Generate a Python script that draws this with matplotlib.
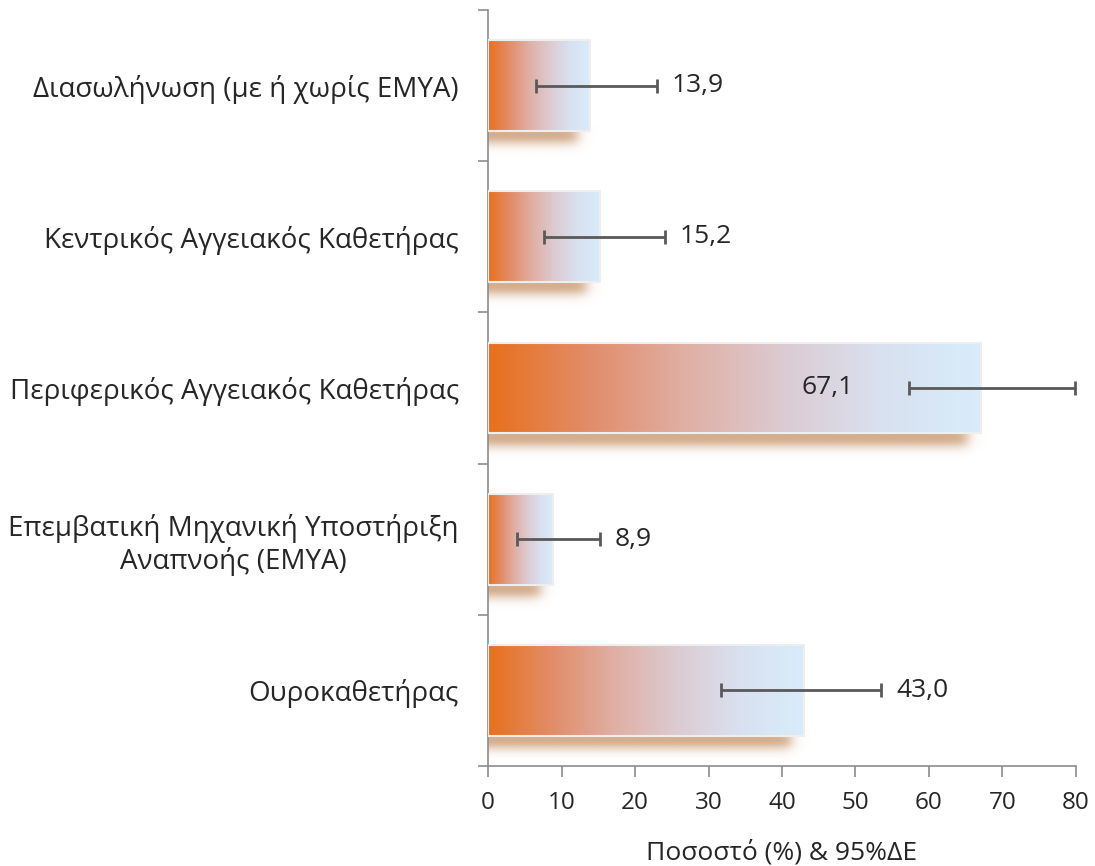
import numpy as np
import matplotlib.pyplot as plt
from matplotlib.colors import LinearSegmentedColormap

# δεδομένα
categories = ['Διασωλήνωση (με ή χωρίς ΕΜΥΑ)',
              'Κεντρικός Αγγειακός Καθετήρας',
              'Περιφερικός Αγγειακός Καθετήρας',
              'Επεμβατική Μηχανική Υποστήριξη\nΑναπνοής (ΕΜΥΑ)',
              'Ουροκαθετήρας']
values = [13.9, 15.2, 67.1, 8.9, 43.0]
ci_low = [6.5, 7.6, 57.3, 3.9, 31.7]
ci_high = [23.0, 24.1, 79.9, 15.2, 53.5]
value_labels = ['13,9', '15,2', '67,1', '8,9', '43,0']
xticks = [0, 10, 20, 30, 40, 50, 60, 70, 80]

plt.rcParams['font.family'] = ['Open Sans', 'DejaVu Sans']

grad = LinearSegmentedColormap.from_list('g', ['#E8701C', '#E28C68', '#E0AFA4',
                                               '#DCCBD2', '#D9E1F0', '#D8ECFB'])

fig = plt.figure(figsize=(10.95, 8.66), dpi=100)
ax = fig.add_axes([0.4457, 0.1155, 0.5369, 0.873])

h = 0.6
for i, v in enumerate(values):
    # σκιά
    nx, ny = 200, 40
    xs = np.linspace(0, v + 1.5, nx)
    ys = np.linspace(i + 0.26, i + 0.48, ny)
    ax_ = 1 / (1 + np.exp((xs - (v - 1.8)) / 0.5))
    ay_ = np.exp(-((ys - (i + 0.33)) / 0.065) ** 2)
    ay_[ys < i + 0.33] = 1
    alpha = np.outer(ay_, ax_) * 0.85
    img = np.zeros((ny, nx, 4))
    img[..., 0] = 205 / 255
    img[..., 1] = 160 / 255
    img[..., 2] = 122 / 255
    img[..., 3] = alpha
    ax.imshow(img, extent=(0, v + 1.5, i + 0.48, i + 0.26), aspect='auto',
              interpolation='bilinear', zorder=1)
    # μπάρα με διαβάθμιση
    g = np.linspace(0, 1, 256).reshape(1, -1)
    ax.imshow(g, cmap=grad, extent=(0, v, i + h / 2, i - h / 2), aspect='auto',
              interpolation='bilinear', zorder=2)
    ax.add_patch(plt.Rectangle((0, i - h / 2), v, h, fill=False,
                               edgecolor='#EEEEEE', lw=1.5, zorder=3))

err = [np.array(values) - np.array(ci_low), np.array(ci_high) - np.array(values)]
ax.errorbar(values, range(len(values)), xerr=err, fmt='none', ecolor='#595959',
            elinewidth=2, capsize=5, capthick=2, zorder=4)

for i, v in enumerate(values):
    if ci_high[i] > 75:
        ax.text(ci_low[i] - 7.6, i, value_labels[i], ha='right', va='center',
                fontsize=19, color='#262626', zorder=5)
    else:
        ax.text(ci_high[i] + 2, i, value_labels[i], ha='left', va='center',
                fontsize=19, color='#262626', zorder=5)

ax.set_xlim(0, 80)
ax.set_ylim(len(values) - 0.5, -0.5)
ax.set_xticks(xticks)
ax.set_xticklabels([str(t) for t in xticks], fontsize=17.5, color='#262626')
ax.set_yticks(np.arange(-0.5, len(values), 1.0))
ax.set_yticklabels([])
ax.set_yticks(range(len(values)), minor=True)
ax.set_yticklabels(categories, minor=True, fontsize=20, color='#262626')
ax.tick_params(axis='y', which='minor', length=0, pad=21)
ax.tick_params(axis='y', which='major', length=7, color='#8C8C8C', width=1.2)
ax.tick_params(axis='x', length=8, color='#8C8C8C', width=1.2, pad=10)
for lab in ax.get_yticklabels(minor=True):
    lab.set_multialignment('center')
for s in ['top', 'right']:
    ax.spines[s].set_visible(False)
for s in ['left', 'bottom']:
    ax.spines[s].set_color('#8C8C8C')
    ax.spines[s].set_linewidth(1.2)
ax.set_xlabel('Ποσοστό (%) & 95%ΔΕ', fontsize=19, color='#262626', labelpad=18)

fig.savefig('out.png', dpi=100)
